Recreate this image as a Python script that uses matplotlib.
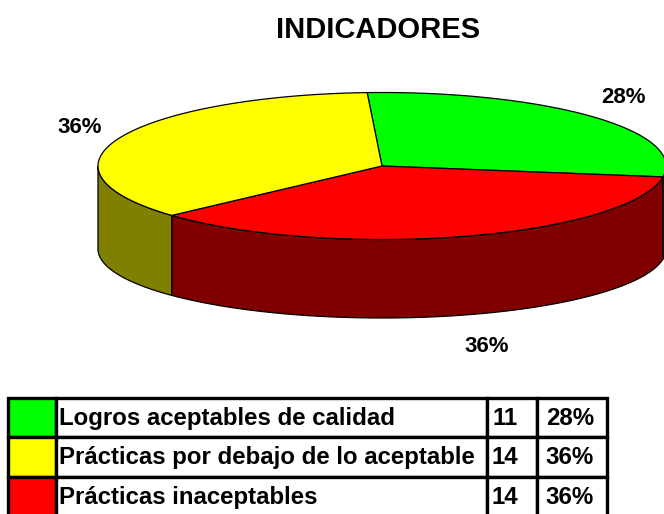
import matplotlib
matplotlib.use("Agg")
import matplotlib.pyplot as plt
from matplotlib.patches import Polygon, Rectangle
import numpy as np

plt.rcParams['font.family'] = ['Liberation Sans', 'DejaVu Sans']

################################################################
# Data

title = 'INDICADORES'
categories = ['Logros aceptables de calidad',
              'Prácticas por debajo de lo aceptable',
              'Prácticas inaceptables']
values = [11, 14, 14]
top_colors = ['#00FF00', '#FFFF00', '#FF0000']
side_colors = ['#008000', '#808000', '#800000']

# pie drawn clockwise: green, red, yellow (same as Excel order in the picture)
pie_order = [0, 2, 1]

################################################################
# Geometry (pixels, y down)

W, H = 664, 514
cx, cy, a, b = 382, 166, 284, 73.5      # top ellipse
cy_b, b_b = 249, 69                      # bottom ellipse
start_angle = 93.0

total = float(sum(values))
pcts = [int(round(100 * v / total)) for v in values]

fig = plt.figure(figsize=(W / 100, H / 100), dpi=100)
ax = fig.add_axes([0, 0, 1, 1])
ax.set_xlim(0, W)
ax.set_ylim(H, 0)
ax.axis('off')


def top_pt(t):
    t = np.radians(t)
    return cx + a * np.cos(t), cy - b * np.sin(t)


def bot_pt(t):
    t = np.radians(t)
    return cx + a * np.cos(t), cy_b - b_b * np.sin(t)


# slice angle ranges
ranges = []
t0 = start_angle
for i in pie_order:
    t1 = t0 - 360.0 * values[i] / total
    ranges.append((i, t1, t0))
    t0 = t1

# sides (front half only: angles between -180 and 0)
for i, t1, t0 in ranges:
    for shift in (0, -360, 360):
        lo = max(t1 + shift, -180.0)
        hi = min(t0 + shift, 0.0)
        if hi <= lo:
            continue
        tt = np.linspace(lo, hi, 120)
        pts = [top_pt(t) for t in tt] + [bot_pt(t) for t in tt[::-1]]
        ax.add_patch(Polygon(pts, closed=True, fc=side_colors[i],
                             ec='k', lw=0.9, joinstyle='round'))

# top wedges
for i, t1, t0 in ranges:
    tt = np.linspace(t1, t0, 200)
    pts = [(cx, cy)] + [top_pt(t) for t in tt]
    ax.add_patch(Polygon(pts, closed=True, fc=top_colors[i],
                         ec='k', lw=0.9, joinstyle='round'))

# percentage labels
for i, t1, t0 in ranges:
    tm = np.radians((t0 + t1) / 2)
    lx = cx + 1.15 * a * np.cos(tm)
    ly = cy - 1.38 * b * np.sin(tm)
    if np.sin(tm) < 0:
        ly += cy_b - cy
        lx += 10
    ax.text(lx, ly, '%d%%' % pcts[i], ha='center', va='center',
            fontsize=16, fontweight='bold', color='k')

ax.text(378, 30, title, ha='center', va='center',
        fontsize=21, fontweight='bold')

################################################################
# Table

x_edges = [8, 56, 487, 537, 607]
y_top, row_h = 397.5, 39.5
LWT = 2.4
FS = 17.3

for r, name in enumerate(categories):
    y0 = y_top + r * row_h
    ax.add_patch(Rectangle((x_edges[0], y0), x_edges[1] - x_edges[0], row_h,
                           fc=top_colors[r], ec='k', lw=LWT))
    for c in range(1, 4):
        ax.add_patch(Rectangle((x_edges[c], y0), x_edges[c + 1] - x_edges[c], row_h,
                               fc='white', ec='k', lw=LWT))
    yc = y0 + row_h / 2 + 1
    ax.text(x_edges[1] + 3, yc, name, ha='left', va='center',
            fontsize=FS, fontweight='bold')
    ax.text(505, yc, str(values[r]), ha='center', va='center',
            fontsize=FS, fontweight='bold')
    ax.text(570, yc, '%d%%' % pcts[r], ha='center', va='center',
            fontsize=FS, fontweight='bold')

fig.savefig('out.png', dpi=100)
